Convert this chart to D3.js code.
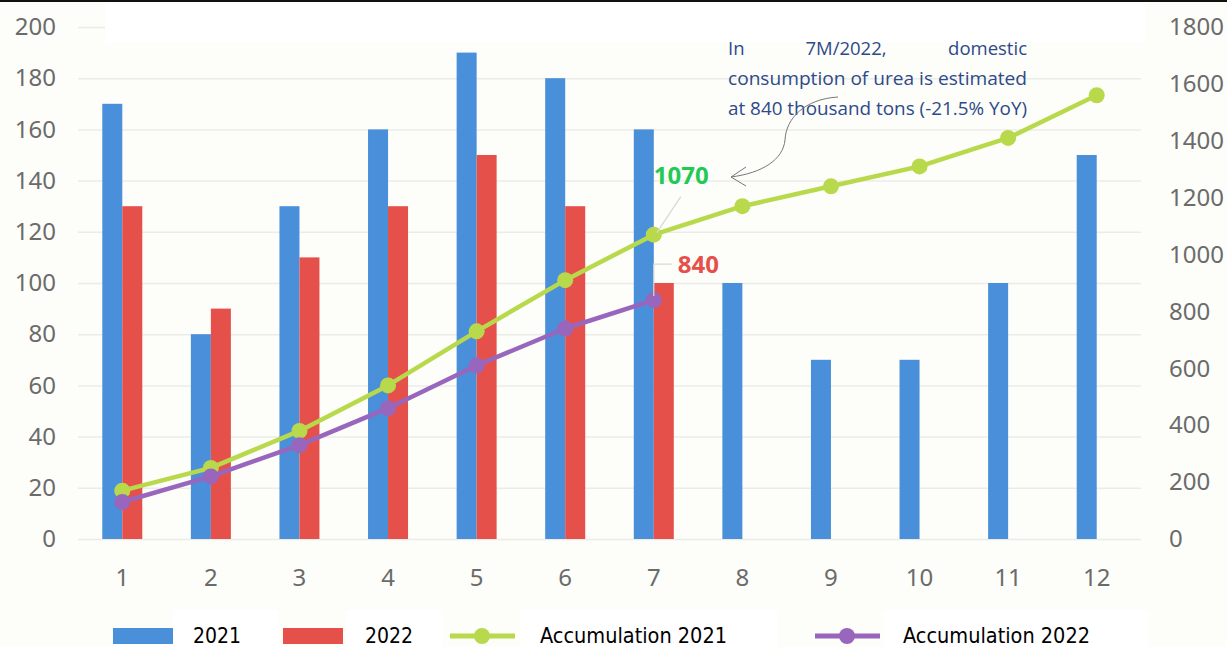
<!DOCTYPE html>
<html>
<head>
<meta charset="utf-8">
<script src="https://cdn.jsdelivr.net/npm/d3@7"></script>
<style>
  body { margin: 0; background: #fdfdf9; }
  svg { display: block; }
</style>
</head>
<body>
<script>
// chart data
var months = [1, 2, 3, 4, 5, 6, 7, 8, 9, 10, 11, 12];
var val2021 = [170, 80, 130, 160, 190, 180, 160, 100, 70, 70, 100, 150];
var val2022 = [130, 90, 110, 130, 150, 130, 100];
var acc2021 = [170, 250, 380, 540, 730, 910, 1070, 1170, 1240, 1310, 1410, 1560];
var acc2022 = [130, 220, 330, 460, 610, 740, 840];
var leftTicks = [0, 20, 40, 60, 80, 100, 120, 140, 160, 180, 200];
var rightTicks = [0, 200, 400, 600, 800, 1000, 1200, 1400, 1600, 1800];
var seriesNames = ["2021", "2022", "Accumulation 2021", "Accumulation 2022"];
var noteLines = ["In 7M/2022, domestic", "consumption of urea is estimated", "at 840 thousand tons (-21.5% YoY)"];

var width = 1227,
    height = 647;

var colBlue = "#4a8fd9", colRed = "#e5504a", colGreen = "#b8d94b", colPurple = "#9866bd";
var tickFont = "'Noto Sans', 'Open Sans', sans-serif";

var svg = d3.select("body").append("svg")
    .attr("width", width)
    .attr("height", height);

svg.append("rect").attr("width", width).attr("height", height).attr("fill", "#fdfdf9");

var x = d3.scaleBand().domain(months).range([78, 1141]);
var xc = function(m) { return x(m) + x.bandwidth() / 2; };
var xSub = d3.scaleBand().domain(["2021", "2022"]).range([-20, 20]);
var yL = d3.scaleLinear().domain([0, 200]).range([539, 27]);
var yR = d3.scaleLinear().domain([0, 1800]).range([539, 27]);

// gridlines
var grid = svg.append("g").attr("transform", "translate(78,0)")
    .call(d3.axisLeft(yL).tickValues(leftTicks).tickSize(-(1141 - 78)).tickFormat(""));
grid.select(".domain").remove();
grid.selectAll("line").attr("stroke", "#ebebe8").attr("stroke-width", 1.5);

// left axis
var ax = svg.append("g").attr("transform", "translate(56,0)")
    .call(d3.axisLeft(yL).tickValues(leftTicks).tickSize(0).tickPadding(0));
ax.select(".domain").remove();
ax.selectAll("text").attr("font-family", tickFont).attr("font-size", 24).attr("fill", "#6b6b6b");

// right axis
var axR = svg.append("g").attr("transform", "translate(1169,0)")
    .call(d3.axisRight(yR).tickValues(rightTicks).tickSize(0).tickPadding(0).tickFormat(d3.format("d")));
axR.select(".domain").remove();
axR.selectAll("text").attr("font-family", tickFont).attr("font-size", 24).attr("fill", "#6b6b6b");

// bottom axis
var axB = svg.append("g").attr("transform", "translate(0,578)")
    .call(d3.axisBottom(x).tickSize(0).tickPadding(0));
axB.select(".domain").remove();
axB.selectAll("text").attr("font-family", tickFont).attr("font-size", 24).attr("fill", "#6b6b6b")
    .attr("dy", "0.35em").attr("y", 0);

// bars
svg.append("g").selectAll("rect")
    .data(val2021)
    .enter().append("rect")
    .attr("x", function(d, i) { return xc(months[i]) + xSub("2021"); })
    .attr("y", function(d) { return yL(d); })
    .attr("width", xSub.bandwidth())
    .attr("height", function(d) { return yL(0) - yL(d); })
    .attr("fill", colBlue);

svg.append("g").selectAll("rect")
    .data(val2022)
    .enter().append("rect")
    .attr("x", function(d, i) { return xc(months[i]) + xSub("2022"); })
    .attr("y", function(d) { return yL(d); })
    .attr("width", xSub.bandwidth())
    .attr("height", function(d) { return yL(0) - yL(d); })
    .attr("fill", colRed);

// cumulative lines
function drawLine(data, color) {
    var line = d3.line()
        .x(function(d, i) { return xc(months[i]); })
        .y(function(d) { return yR(d); });
    svg.append("path").datum(data)
        .attr("d", line)
        .attr("fill", "none")
        .attr("stroke", color)
        .attr("stroke-width", 4.5)
        .attr("stroke-linejoin", "round");
    svg.append("g").selectAll("circle")
        .data(data)
        .enter().append("circle")
        .attr("cx", function(d, i) { return xc(months[i]); })
        .attr("cy", function(d) { return yR(d); })
        .attr("r", 8)
        .attr("fill", color);
}
drawLine(acc2021, colGreen);
drawLine(acc2022, colPurple);

// data labels with leaders
var p21 = [xc(7), yR(acc2021[6])];
var p22 = [xc(7), yR(acc2022[6])];
svg.append("path")
    .attr("d", "M" + (p21[0] + 3) + "," + (p21[1] - 2) + "L" + (p21[0] + 27) + "," + (p21[1] - 38))
    .attr("stroke", "#d8d8d4").attr("stroke-width", 1.2).attr("fill", "none");
svg.append("text").attr("x", p21[0]).attr("y", p21[1] - 51)
    .attr("font-family", tickFont).attr("font-weight", "bold").attr("font-size", 24)
    .attr("fill", "#22c955").text(acc2021[6]);
svg.append("path")
    .attr("d", "M" + p22[0] + "," + (p22[1] - 4) + "L" + p22[0] + "," + (p22[1] - 36) + "L" + (p22[0] + 18) + "," + (p22[1] - 36))
    .attr("stroke", "#d8d8d4").attr("stroke-width", 1.2).attr("fill", "none");
svg.append("text").attr("x", p22[0] + 24).attr("y", p22[1] - 27)
    .attr("font-family", tickFont).attr("font-weight", "bold").attr("font-size", 24)
    .attr("fill", "#e5504a").text(acc2022[6]);

// top strip (cropped title area)
svg.append("rect").attr("x", 105).attr("y", 0).attr("width", 1040).attr("height", 43).attr("fill", "#ffffff");
svg.append("rect").attr("x", 0).attr("y", 0).attr("width", width).attr("height", 2).attr("fill", "#111");

// annotation
var note = svg.append("g").attr("font-family", "'Open Sans', sans-serif").attr("font-size", 18.5).attr("fill", "#2d4a8a");
var w0 = noteLines[0].split(" ");
note.append("text").attr("x", 728).attr("y", 55).text(w0[0]);
note.append("text").attr("x", 846).attr("y", 55).attr("text-anchor", "middle").text(w0[1]);
note.append("text").attr("x", 1027).attr("y", 55).attr("text-anchor", "end").text(w0[2]);
note.append("text").attr("x", 728).attr("y", 85).attr("textLength", 299).attr("lengthAdjust", "spacingAndGlyphs").text(noteLines[1]);
note.append("text").attr("x", 728).attr("y", 115).attr("textLength", 299).attr("lengthAdjust", "spacingAndGlyphs").text(noteLines[2]);

svg.append("path")
    .attr("d", "M838,97 C805,99 786,118 785,140 C783,160 762,173 731,177")
    .attr("stroke", "#777").attr("stroke-width", 1).attr("fill", "none");
svg.append("path")
    .attr("d", "M746,167 L731,177 L746,186")
    .attr("stroke", "#777").attr("stroke-width", 1).attr("fill", "none");

// legend
var legendFont = "'DejaVu Sans Condensed', 'Liberation Sans Narrow', sans-serif";
var legendItems = [
    { name: seriesNames[0], type: "bar", color: colBlue, sx: 113, tx: 193, tw: 48, box: [173, 105] },
    { name: seriesNames[1], type: "bar", color: colRed, sx: 283, tx: 365, tw: 48, box: [345, 98] },
    { name: seriesNames[2], type: "line", color: colGreen, sx: 450, tx: 540, tw: 187, box: [520, 257] },
    { name: seriesNames[3], type: "line", color: colPurple, sx: 815, tx: 903, tw: 187, box: [884, 264] }
];
var leg = svg.append("g");
legendItems.forEach(function(it) {
    leg.append("rect").attr("x", it.box[0]).attr("y", 610).attr("width", it.box[1]).attr("height", 37).attr("fill", "#ffffff");
    if (it.type === "bar") {
        leg.append("rect").attr("x", it.sx).attr("y", 628).attr("width", 60).attr("height", 16).attr("fill", it.color);
    } else {
        leg.append("line").attr("x1", it.sx).attr("x2", it.sx + 65).attr("y1", 636).attr("y2", 636)
            .attr("stroke", it.color).attr("stroke-width", 5);
        leg.append("circle").attr("cx", it.sx + 32).attr("cy", 636).attr("r", 8).attr("fill", it.color);
    }
    leg.append("text").attr("x", it.tx).attr("y", 643)
        .attr("font-family", legendFont).attr("font-size", 22).attr("fill", "#000")
        .attr("textLength", it.tw).attr("lengthAdjust", "spacingAndGlyphs")
        .text(it.name);
});
</script>
</body>
</html>
